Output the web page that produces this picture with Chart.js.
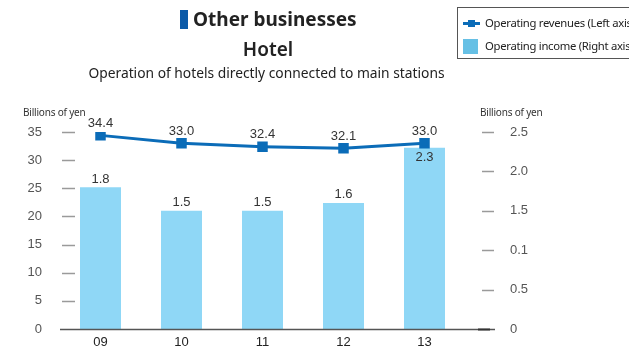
<!DOCTYPE html>
<html>
<head>
<meta charset="utf-8">
<script src="https://cdn.jsdelivr.net/npm/chart.js@4"></script>
<style>
  html, body { margin: 0; padding: 0; background: #fff; }
  #wrap { position: relative; width: 629px; height: 348px; overflow: hidden; font-family: "Noto Sans", sans-serif; color: #222; }
  #box { position: absolute; left: 0; top: 0; width: 629px; height: 348px; }
  .txt { position: absolute; white-space: nowrap; }
  #mark { position: absolute; left: 180px; top: 10px; width: 8px; height: 19px; background: #0b5aa8; }
  #legend { position: absolute; left: 457px; top: 7px; width: 190px; height: 52px; border: 1px solid #555; box-sizing: border-box; }
  .lg { position: absolute; left: 27px; font-size: 11.3px; color: #222; letter-spacing: -0.3px; }
</style>
</head>
<body>
<div id="wrap">
  <div id="box"><canvas id="chart"></canvas></div>
  <div id="mark"></div>
  <div class="txt" style="left:193px;top:6px;font-size:19px;font-weight:700;">Other businesses</div>
  <div class="txt" style="left:0;width:536px;text-align:center;top:36px;font-size:19px;font-weight:600;">Hotel</div>
  <div class="txt" style="left:0;width:533px;text-align:center;top:63px;font-size:13.8px;">Operation of hotels directly connected to main stations</div>
  <div class="txt" style="left:23px;top:105px;font-size:10px;color:#333;letter-spacing:-0.2px;">Billions of yen</div>
  <div class="txt" style="left:480px;top:105px;font-size:10px;color:#333;letter-spacing:-0.2px;">Billions of yen</div>
  <div id="legend">
    <div style="position:absolute;left:5px;top:14px;width:17px;height:3px;background:#0b6cb8;"></div>
    <div style="position:absolute;left:10px;top:12px;width:7px;height:7px;background:#0b6cb8;"></div>
    <div class="lg" style="top:7px;">Operating revenues (Left axis)</div>
    <div style="position:absolute;left:5px;top:31px;width:15px;height:15px;background:#66c0e5;"></div>
    <div class="lg" style="top:30px;">Operating income (Right axis)</div>
  </div>
</div>
<script>
// chart data
const years = ['09', '10', '11', '12', '13'];
const revenues = [34.4, 33.0, 32.4, 32.1, 33.0];   // left axis
const income = [1.8, 1.5, 1.5, 1.6, 2.3];          // right axis
const leftTicks = [0, 5, 10, 15, 20, 25, 30, 35];
const rightTickLabels = ['0', '0.5', '0.1', '1.5', '2.0', '2.5'];

const lineColor = '#0b6cb8';
const barColor = '#8fd7f6';
const numFont = '"Liberation Sans", Arial, sans-serif';

// short tick dashes and the base line, drawn from the scales
const tickDashes = {
    id: 'tickDashes',
    afterDraw(chart) {
        const ctx = chart.ctx;
        const yl = chart.scales.yL;
        const yr = chart.scales.yR;
        ctx.save();
        ctx.strokeStyle = '#9a9a9a';
        ctx.lineWidth = 1.5;
        yl.ticks.forEach(t => {
            if (t.value === 0) return;
            const y = Math.round(yl.getPixelForValue(t.value)) + 0.5;
            ctx.beginPath(); ctx.moveTo(62, y); ctx.lineTo(75, y); ctx.stroke();
        });
        yr.ticks.forEach(t => {
            if (t.value === 0) return;
            const y = Math.round(yr.getPixelForValue(t.value)) + 0.5;
            ctx.beginPath(); ctx.moveTo(482, y); ctx.lineTo(494, y); ctx.stroke();
        });
        const y0 = Math.round(yl.getPixelForValue(0)) + 0.5;
        ctx.strokeStyle = '#555';
        ctx.beginPath(); ctx.moveTo(60, y0); ctx.lineTo(495, y0); ctx.stroke();
        ctx.strokeStyle = '#333';
        ctx.lineWidth = 2;
        ctx.beginPath(); ctx.moveTo(478, y0); ctx.lineTo(490, y0); ctx.stroke();
        ctx.restore();
    }
};

// value labels over bars and points
const valueLabels = {
    id: 'valueLabels',
    afterDatasetsDraw(chart) {
        const ctx = chart.ctx;
        ctx.save();
        ctx.font = '13px ' + numFont;
        ctx.fillStyle = '#333';
        ctx.textAlign = 'center';
        ctx.textBaseline = 'middle';
        chart.getDatasetMeta(1).data.forEach((el, i) => {
            const inside = i === income.length - 1;
            ctx.fillText(income[i].toFixed(1), el.x, inside ? el.y + 10 : el.y - 8);
        });
        chart.getDatasetMeta(0).data.forEach((el, i) => {
            ctx.fillText(revenues[i].toFixed(1), el.x, el.y - 12);
        });
        ctx.restore();
    }
};

// fixed axis boxes; drop the label overhang padding so the plot keeps its size
function fixWidth(w) {
    return s => { s.width = w; s.paddingTop = 0; s.paddingBottom = 0; };
}

new Chart(document.getElementById('chart'), {
    data: {
        labels: years,
        datasets: [
            {
                type: 'line',
                data: revenues,
                yAxisID: 'yL',
                borderColor: lineColor,
                backgroundColor: lineColor,
                borderWidth: 3,
                pointStyle: 'rect',
                pointRadius: 5.3,
                tension: 0,
                order: 0
            },
            {
                type: 'bar',
                data: income,
                yAxisID: 'yR',
                backgroundColor: barColor,
                categoryPercentage: 1,
                barPercentage: 0.506,
                order: 1
            }
        ]
    },
    options: {
        responsive: true,
        maintainAspectRatio: false,
        animation: false,
        layout: { padding: { top: 132, left: 0, right: 0, bottom: 0 } },
        plugins: { legend: { display: false }, tooltip: { enabled: false } },
        scales: {
            x: {
                grid: { display: false },
                border: { display: false },
                ticks: { color: '#222', font: { size: 13, family: numFont }, padding: -2 },
                afterFit(s) { s.height = 19; }
            },
            yL: {
                position: 'left',
                min: 0, max: 35,
                afterBuildTicks(s) { s.ticks = leftTicks.map(v => ({ value: v })); },
                grid: { display: false },
                border: { display: false },
                ticks: { color: '#555', padding: 10, font: { size: 13, family: numFont } },
                afterFit: fixWidth(60)
            },
            yR: {
                position: 'right',
                min: 0, max: 2.5,
                ticks: {
                    stepSize: 0.5,
                    color: '#555',
                    padding: 37,
                    font: { size: 13, family: numFont },
                    callback: (v, i) => rightTickLabels[i]
                },
                grid: { display: false },
                border: { display: false },
                afterFit: fixWidth(164)
            }
        }
    },
    plugins: [tickDashes, valueLabels]
});
</script>
</body>
</html>
